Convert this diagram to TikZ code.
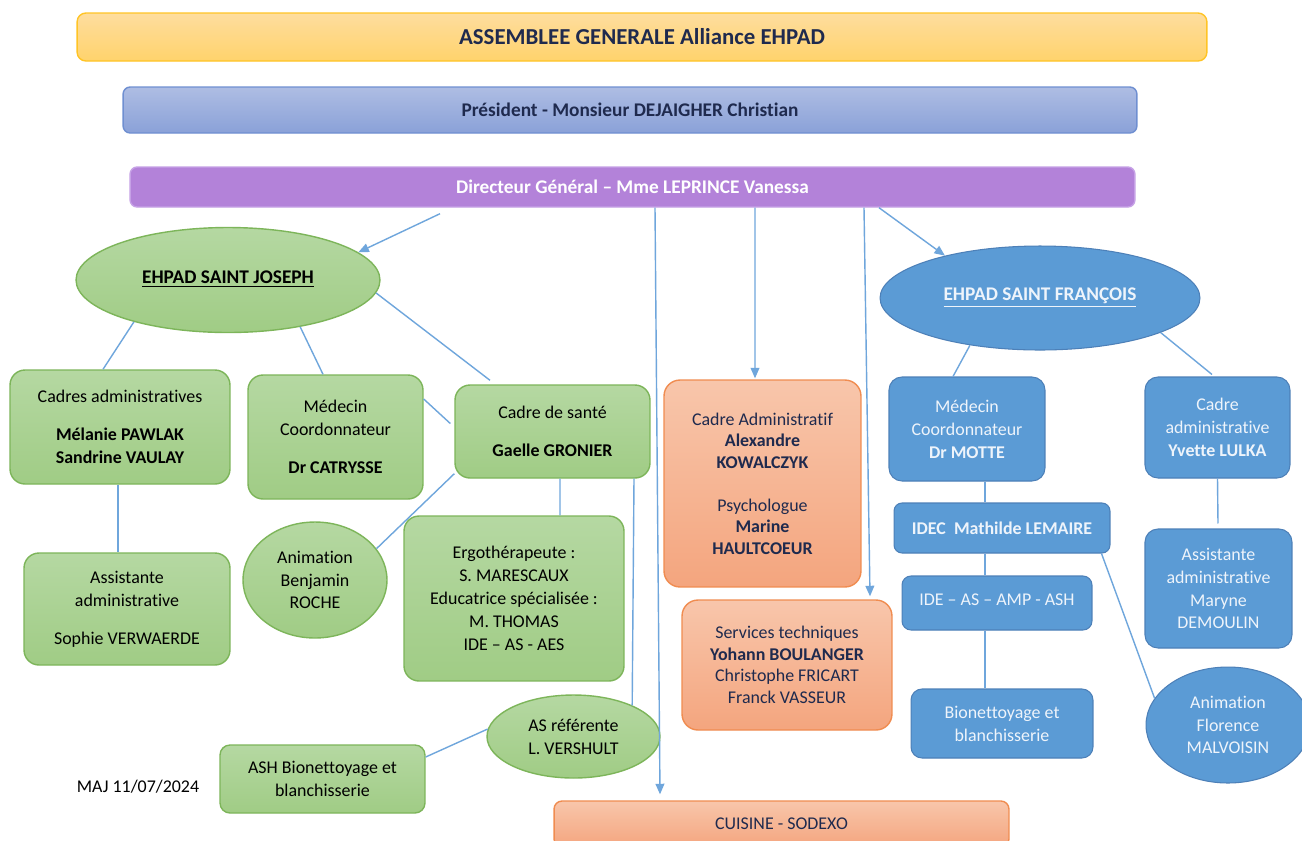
\documentclass[tikz,border=0pt]{standalone}
\usepackage{fontspec}
\setmainfont[Ligatures=NoCommon]{Carlito}
\usetikzlibrary{arrows.meta,shapes.geometric,calc}

\definecolor{linkblue}{HTML}{6FA6DC}
\definecolor{navytext}{HTML}{1F2A4E}
\definecolor{yellowtop}{HTML}{FEDD9E}
\definecolor{yellowbot}{HTML}{FFD36C}
\definecolor{yellowline}{HTML}{FFC425}
\definecolor{prestop}{HTML}{AEBDE3}
\definecolor{presbot}{HTML}{8AA1D8}
\definecolor{presline}{HTML}{6F8FD1}
\definecolor{dirfill}{HTML}{B382D9}
\definecolor{dirline}{HTML}{C6A1E6}
\definecolor{greentop}{HTML}{B5D8A2}
\definecolor{greenbot}{HTML}{A0CC85}
\definecolor{greenline}{HTML}{7DB55A}
\definecolor{orangetop}{HTML}{F8C6AB}
\definecolor{orangebot}{HTML}{F4A57E}
\definecolor{orangeline}{HTML}{F08C50}
\definecolor{bluefill}{HTML}{5B9BD5}
\definecolor{blueline}{HTML}{4D80B8}
\definecolor{bluetext}{HTML}{EEF4FB}

\begin{document}
\begin{tikzpicture}[x=0.02cm,y=-0.02cm,
    link/.style={draw=linkblue,line width=0.8pt},
    arr/.style={link,-{Triangle[length=6pt,width=5pt]}},
    txt/.style={align=center,inner sep=1pt,font=\fontsize{10.2}{13}\selectfont},
    greenbox/.style={txt,rounded corners=0.3cm,draw=greenline,line width=0.8pt,top color=greentop,bottom color=greenbot,text=black},
    greenell/.style={greenbox,ellipse,rounded corners=0pt},
    orangebox/.style={txt,rounded corners=0.32cm,draw=orangeline,line width=0.8pt,top color=orangetop,bottom color=orangebot,text=navytext,font=\fontsize{10.2}{12.3}\selectfont},
    bluebox/.style={txt,rounded corners=0.26cm,draw=blueline,line width=0.6pt,fill=bluefill,text=bluetext},
    blueell/.style={bluebox,ellipse,rounded corners=0pt}]

  % Page
  \fill[white] (0,0) rectangle (1302,840);
  \useasboundingbox (0,0) rectangle (1302,840);

  % Top bars
  \node[txt,rounded corners=5pt,draw=yellowline,line width=0.8pt,top color=yellowtop,bottom color=yellowbot,text=navytext,
        font=\fontsize{13}{15}\selectfont\bfseries,minimum width=22.6cm,minimum height=0.96cm] (ag) at (642,37) {ASSEMBLEE GENERALE Alliance EHPAD};
  \node[txt,rounded corners=4pt,draw=presline,line width=0.8pt,top color=prestop,bottom color=presbot,text=navytext,
        font=\fontsize{11}{13}\selectfont\bfseries,minimum width=20.28cm,minimum height=0.92cm] (pres) at (630,110) {Président - Monsieur DEJAIGHER Christian};
  \node[txt,rounded corners=4pt,draw=dirline,line width=0.8pt,fill=dirfill,text=white,
        font=\fontsize{11}{13}\selectfont\bfseries,minimum width=20.1cm,minimum height=0.8cm] (dir) at (632.5,187) {Directeur Général – Mme LEPRINCE Vanessa};

  % EHPAD Saint Joseph
  \node[greenell,font=\fontsize{11}{13}\selectfont,minimum width=6.08cm,minimum height=2.1cm] (sj) at (228,280) {\raisebox{0.12cm}{\underline{\textbf{EHPAD SAINT JOSEPH}}}};
  \node[greenbox,minimum width=4.4cm,minimum height=2.28cm] (cadm) at (120,427) {Cadres administratives\\[8.5pt] \textbf{Mélanie PAWLAK}\\ \textbf{Sandrine VAULAY}};
  \node[greenbox,minimum width=3.5cm,minimum height=2.48cm] (medsj) at (335.5,437) {Médecin\\ Coordonnateur\\[8.5pt] \textbf{Dr CATRYSSE}};
  \node[greenbox,minimum width=3.9cm,minimum height=1.86cm] (cs) at (552.5,431.5) {Cadre de santé\\[8.5pt] \textbf{Gaelle GRONIER}};
  \node[greenbox,minimum width=4.12cm,minimum height=2.24cm] (assj) at (127,609) {Assistante\\ administrative\\[8.5pt] Sophie VERWAERDE};
  \node[greenell,minimum width=2.88cm,minimum height=2.32cm] (anim) at (315,580) {Animation\\ Benjamin\\ ROCHE};
  \node[greenbox,minimum width=4.4cm,minimum height=3.3cm] (ergo) at (514,598.5) {Ergothérapeute :\\ S. MARESCAUX\\ Educatrice spécialisée :\\ M. THOMAS\\ IDE – AS - AES};
  \node[greenell,minimum width=3.46cm,minimum height=1.66cm] (asref) at (573.5,736.5) {AS référente\\ L. VERSHULT};
  \node[greenbox,rounded corners=0.2cm,minimum width=4.1cm,minimum height=1.36cm] (ash) at (322.5,779) {ASH Bionettoyage et\\ blanchisserie};
  \node[txt] (maj) at (138,787) {MAJ 11/07/2024};

  % Services communs
  \node[orangebox,minimum width=3.94cm,minimum height=4.14cm] (cadmin) at (762.5,483.5) {Cadre Administratif\\ \textbf{Alexandre}\\ \textbf{KOWALCZYK}\\[12pt] Psychologue\\ \textbf{Marine}\\ \textbf{HAULTCOEUR}};
  \node[orangebox,minimum width=4.2cm,minimum height=2.6cm] (stech) at (787,665) {Services techniques\\ \textbf{Yohann BOULANGER}\\ Christophe FRICART\\ Franck VASSEUR};
  \node[orangebox,rounded corners=0.16cm,minimum width=9.1cm,minimum height=0.92cm] (cuisine) at (781.5,824) {CUISINE - SODEXO};

  % EHPAD Saint Francois
  \node[blueell,font=\fontsize{11}{13}\selectfont,minimum width=6.4cm,minimum height=2.08cm] (sf) at (1040,298) {\raisebox{0.12cm}{\underline{\textbf{EHPAD SAINT FRANÇOIS}}}};
  \node[bluebox,minimum width=3.12cm,minimum height=2.08cm] (medsf) at (967,429) {Médecin\\ Coordonnateur\\ \textbf{Dr MOTTE}};
  \node[bluebox,minimum width=2.9cm,minimum height=2.02cm] (cadsf) at (1217.5,427.5) {Cadre\\ administrative\\ \textbf{Yvette LULKA}};
  \node[bluebox,rounded corners=0.16cm,minimum width=4.32cm,minimum height=1cm] (idec) at (1002,528) {\textbf{IDEC\ \ Mathilde LEMAIRE}};
  \node[bluebox,rounded corners=0.18cm,minimum width=3.8cm,minimum height=1.08cm] (ide) at (997,603) {\raisebox{0.12cm}{IDE – AS – AMP - ASH}};
  \node[bluebox,rounded corners=0.22cm,minimum width=3.64cm,minimum height=1.38cm] (bio) at (1002,723.5) {Bionettoyage et\\ blanchisserie};
  \node[bluebox,minimum width=2.94cm,minimum height=2.38cm] (assf) at (1218.5,588.5) {Assistante\\ administrative\\ Maryne\\ DEMOULIN};
  \node[blueell,minimum width=3.28cm,minimum height=2.32cm] (animf) at (1228,725) {Animation\\ Florence\\ MALVOISIN};

  % Arrows from the director
  \draw[arr] ($(dir.south)+(-192.5,6)$) -- (sj.12);
  \draw[arr] ($(dir.south)+(22.5,0)$) -- ($(cuisine.north)+(-121.5,-6)$);
  \draw[arr] ($(dir.south)+(122.5,0)$) -- ($(cadmin.north)+(-7.5,-1)$);
  \draw[arr] ($(dir.south)+(231.5,0)$) -- ($(stech.north)+(83,-3)$);
  \draw[arr] ($(dir.south)+(246.5,0)$) -- (sf.156);

  % Saint Joseph links
  \draw[link] (sj.204) -- ($(cadm.north)+(-17,0)$);
  \draw[link] (sj.-33) -- ($(medsj.north)+(-12.5,0)$);
  \draw[link] (sj.-5) -- ($(cs.north)+(-62.5,-4)$);
  \draw[link] ($(medsj.east)+(0,-38)$) -- ($(cs.west)+(-4,-8)$);
  \draw[link] ($(cs.south west)+(0,-5)$) -- (anim.27);
  \draw[link] ($(cs.south)+(7.5,0)$) -- ($(ergo.north)+(46,0)$);
  \draw[link] ($(cs.south)+(81.5,0)$) -- (asref.28);
  \draw[link] ($(cadm.south)+(-2,0)$) -- ($(assj.north)+(-9,0)$);
  \draw[link] (asref.175) -- ($(ash.east)+(0,-22)$);

  % Saint Francois links
  \draw[link] (sf.214) -- ($(medsf.north)+(-14,0)$);
  \draw[link] (sf.-16) -- ($(cadsf.north)+(-5.5,-2)$);
  \draw[link] ($(medsf.south)+(18,0)$) -- ($(idec.north)+(-17,0)$);
  \draw[link] ($(idec.south)+(-17,0)$) -- ($(ide.north)+(-12,0)$);
  \draw[link] ($(ide.south)+(-12,0)$) -- ($(bio.north)+(-17,0)$);
  \draw[link] ($(idec.south east)+(-9,0)$) -- (animf.160);
  \draw[link] (cadsf.south) -- ($(assf.north)+(-0.5,-5)$);
\end{tikzpicture}
\end{document}
